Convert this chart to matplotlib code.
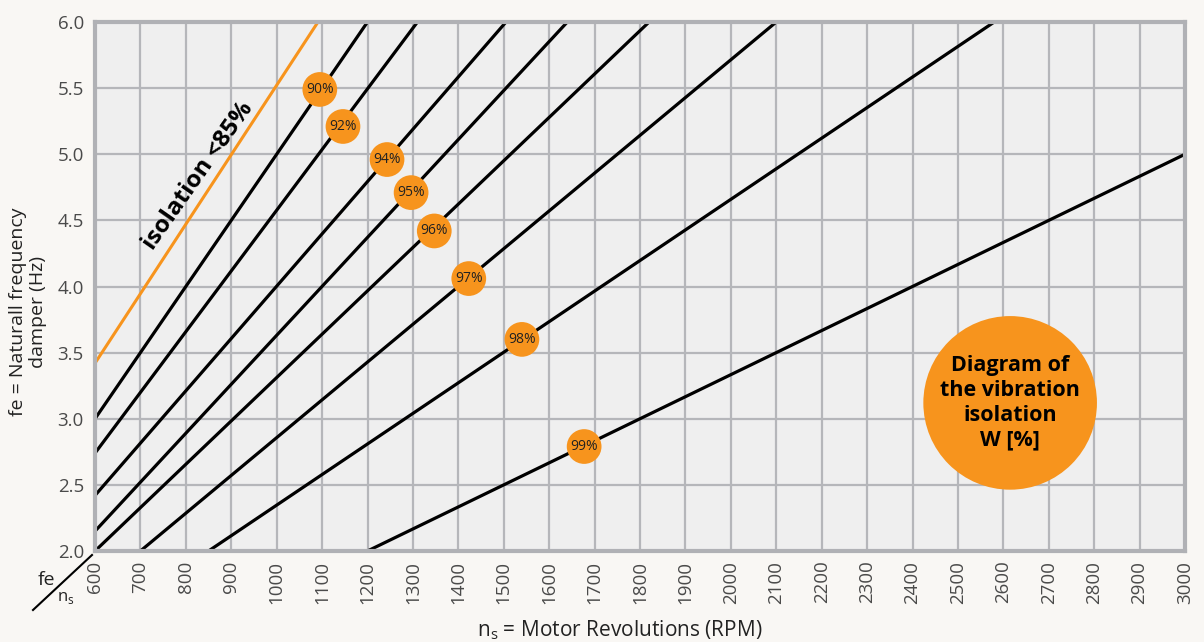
import matplotlib.pyplot as plt
from matplotlib.lines import Line2D

plt.rcParams['font.family'] = ['Open Sans', 'DejaVu Sans']
plt.rcParams['mathtext.fontset'] = 'custom'
plt.rcParams['mathtext.rm'] = 'Open Sans'

# isolation lines (start / end points)
iso_labels = ['90%', '92%', '94%', '95%', '96%', '97%', '98%', '99%']
line_x0 = [600, 600, 600, 600, 600, 700, 850, 1200]
line_y0 = [3.0, 2.74, 2.42, 2.15, 2.0, 2.0, 2.0, 2.0]
line_x1 = [1200, 1310, 1505, 1640, 1820, 2100, 2580, 3000]
line_y1 = [6.0, 6.0, 6.0, 6.0, 6.0, 6.0, 6.0, 5.0]

# label bubble positions
label_x = [1095, 1146, 1243, 1296, 1347, 1423, 1540, 1677]
label_y = [5.49, 5.21, 4.96, 4.71, 4.42, 4.06, 3.60, 2.79]

# limit line (isolation < 85%)
limit_x = [600, 1091]
limit_y = [3.42, 6.0]

x_ticks = list(range(600, 3001, 100))
y_ticks = [2.0, 2.5, 3.0, 3.5, 4.0, 4.5, 5.0, 5.5, 6.0]

orange = '#f7941d'
grid_col = '#b5b6ba'

fig = plt.figure(figsize=(12.04, 6.42), dpi=100, facecolor='#f9f7f4')
ax = fig.add_axes([95 / 1204, 1 - 551 / 642, 1090 / 1204, 529 / 642])
ax.set_facecolor('#efefef')

ax.set_xlim(600, 3000)
ax.set_ylim(2.0, 6.0)
ax.set_xticks(x_ticks)
ax.set_yticks(y_ticks)
ax.set_xticklabels([str(v) for v in x_ticks], rotation=90)
ax.set_yticklabels(['%.1f' % v for v in y_ticks])
ax.tick_params(axis='both', length=0, labelsize=13.5, labelcolor='#4a4a4a')
ax.tick_params(axis='x', pad=7)
ax.tick_params(axis='y', pad=8)
ax.grid(True, color=grid_col, linewidth=1.6, zorder=0)
ax.set_axisbelow(True)
for s in ax.spines.values():
    s.set_color('#b0b1b5')
    s.set_linewidth(3)
    s.set_zorder(5)

for i in range(len(iso_labels)):
    ax.plot([line_x0[i], line_x1[i]], [line_y0[i], line_y1[i]],
            color='black', linewidth=2.3, solid_capstyle='butt', zorder=3)

ax.plot(limit_x, limit_y, color=orange, linewidth=2.2, zorder=3)
ax.text(827, 4.84, 'isolation <85%', rotation=55, fontsize=17.5, fontweight='bold',
        ha='center', va='center', color='black', rotation_mode='anchor')

ax.scatter(label_x, label_y, s=25 ** 2, color=orange, edgecolors='none', zorder=4)
for lx, ly, lab in zip(label_x, label_y, iso_labels):
    ax.text(lx, ly, lab, fontsize=10, ha='center', va='center', color='#222222', zorder=6)

# big bubble
ax.scatter([2615], [3.12], s=125 ** 2, color=orange, edgecolors='none', zorder=4)
ax.text(2615, 3.12, 'Diagram of\nthe vibration\nisolation\nW [%]', fontsize=15.5,
        fontweight='bold', ha='center', va='center', linespacing=1.25,
        color='black', zorder=6)

# axis titles
fig.text(28 / 1204, 1 - 312 / 642, 'fe = Naturall frequency\ndamper (Hz)', rotation=90,
         ha='center', va='center', fontsize=14, color='#222222', multialignment='center',
         linespacing=1.1)
fig.text(620 / 1204, 1 - 630 / 642, r'n$_\mathrm{s}$ = Motor Revolutions (RPM)',
         ha='center', va='center', fontsize=15, color='#222222')

# corner key
fig.add_artist(Line2D([33 / 1204, 92 / 1204], [1 - 610 / 642, 1 - 555 / 642],
                      color='black', linewidth=1.5))
fig.text(46 / 1204, 1 - 580 / 642, 'fe', ha='center', va='center', fontsize=14, color='#222222')
fig.text(66 / 1204, 1 - 598 / 642, r'n$_\mathrm{s}$', ha='center', va='center',
         fontsize=12, color='#222222')

fig.savefig('out.png', dpi=100, facecolor=fig.get_facecolor())
